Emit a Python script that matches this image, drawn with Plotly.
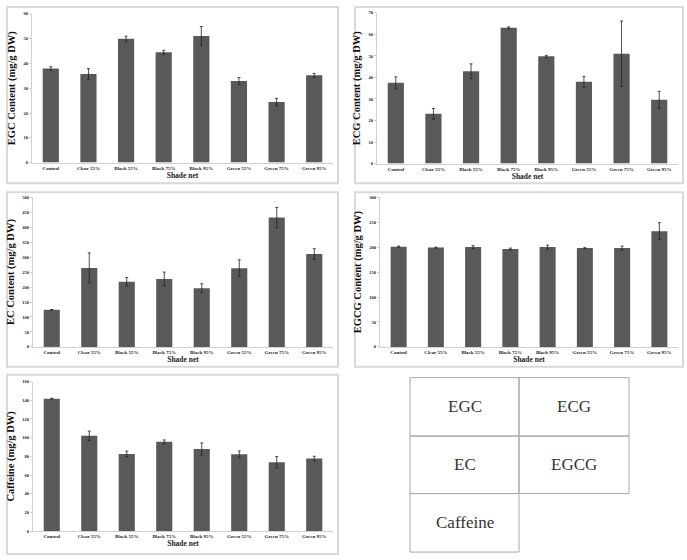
import plotly.graph_objects as go

W, H = 687, 560

categories = ["Control", "Clear 55%", "Black 55%", "Black 75%", "Black 95%",
              "Green 55%", "Green 75%", "Green 95%"]

egc = [38.0, 35.7, 50.0, 44.5, 51.1, 32.9, 24.4, 35.2]
egc_err = [0.7, 2.2, 1.0, 0.8, 3.8, 1.4, 1.5, 0.8]

ecg = [37.5, 23.1, 42.9, 63.1, 49.8, 38.0, 51.0, 29.6]
ecg_err = [2.8, 2.5, 3.4, 0.4, 0.5, 2.5, 15.2, 4.0]

ec = [124, 264, 218, 227, 196, 263, 432, 310]
ec_err = [1, 50, 14, 23, 15, 28, 34, 18]

egcg = [201, 199, 200, 196, 200, 198, 198, 232]
egcg_err = [1, 1, 3, 2, 4, 1, 4, 17]

caffeine = [141.7, 102, 82.6, 95.6, 87.9, 82.3, 73.8, 77.7]
caffeine_err = [0.5, 5, 3, 2, 6.5, 3.5, 6, 2.5]

y_titles = ["EGC Content (mg/g DW)", "ECG Content (mg/g DW)", "EC Content (mg/g DW)",
            "EGCG Content (mg/g DW)", "Caffeine (mg/g DW)"]
y_max = [60, 70, 500, 300, 160]
y_step = [10, 10, 50, 50, 20]
x_title = "Shade net"
table_labels = ["EGC", "ECG", "EC", "EGCG", "Caffeine"]

series = [(egc, egc_err), (ecg, ecg_err), (ec, ec_err), (egcg, egcg_err), (caffeine, caffeine_err)]

# pixel geometry: (plot left, plot right, plot top, plot bottom), panel border box
plots = [(32, 333, 12, 162), (377, 678, 11, 163), (33, 333, 197, 348),
         (380, 678, 197, 348), (33, 333, 383, 534)]
borders = [(7, 5, 338, 183), (355, 5, 683, 183), (7, 192, 338, 368),
           (355, 192, 683, 368), (7, 376, 338, 557)]

def px(x):
    return x / W

def py(y):
    return 1 - y / H

fig = go.Figure()
serif = "Liberation Serif"
layout = {}
shapes = []
annotations = []

for i, ((vals, errs), (l, r, t, b)) in enumerate(zip(series, plots)):
    n = "" if i == 0 else str(i + 1)
    fig.add_trace(go.Bar(
        x=categories, y=vals,
        error_y=dict(type="data", array=errs, visible=True, color="#222222",
                     thickness=0.8, width=1.5),
        marker=dict(color="#595959", line=dict(width=0)),
        xaxis="x" + n, yaxis="y" + n, showlegend=False,
    ))
    layout["xaxis" + n] = dict(
        domain=[px(l), px(r)], anchor="y" + n,
        showline=True, linecolor="#d0d0d0", linewidth=1,
        ticks="", ticklen=0,
        tickfont=dict(family=serif, size=5, color="#222", weight="bold"),
        title=dict(text="<b>" + x_title + "</b>", font=dict(family=serif, size=7.5, color="#222"),
                   standoff=0),
        showgrid=False, fixedrange=True,
    )
    layout["yaxis" + n] = dict(
        domain=[py(b), py(t)], anchor="x" + n,
        range=[0, y_max[i]], dtick=y_step[i], tick0=0,
        showline=True, linecolor="#d0d0d0", linewidth=1,
        ticks="outside", ticklen=2, tickcolor="#d0d0d0",
        tickfont=dict(family=serif, size=4.5, color="#222", weight="bold"),
        title=dict(text="<b>" + y_titles[i] + "</b>",
                   font=dict(family=serif, size=10.5, color="#111"), standoff=5),
        showgrid=False, zeroline=False, fixedrange=True,
    )

for (x0, y0, x1, y1) in borders:
    shapes.append(dict(type="rect", xref="paper", yref="paper",
                       x0=px(x0), x1=px(x1), y0=py(y1), y1=py(y0),
                       line=dict(color="#d9d9d9", width=2), fillcolor="rgba(0,0,0,0)"))

# table
tl, tm, tr = 410, 519, 629
rows = [379, 438, 496, 555]
tline = dict(color="#a8a8a8", width=1)
for j in range(3):
    shapes.append(dict(type="rect", xref="paper", yref="paper",
                       x0=px(tl), x1=px(tm), y0=py(rows[j + 1]), y1=py(rows[j]), line=tline))
for j in range(2):
    shapes.append(dict(type="rect", xref="paper", yref="paper",
                       x0=px(tm), x1=px(tr), y0=py(rows[j + 1]), y1=py(rows[j]), line=tline))
cells = [((tl + tm) / 2, (rows[0] + rows[1]) / 2), ((tm + tr) / 2, (rows[0] + rows[1]) / 2),
         ((tl + tm) / 2, (rows[1] + rows[2]) / 2), ((tm + tr) / 2, (rows[1] + rows[2]) / 2),
         ((tl + tm) / 2, (rows[2] + rows[3]) / 2)]
for lab, (cx, cy) in zip(table_labels, cells):
    annotations.append(dict(text=lab, x=px(cx), y=py(cy), xref="paper", yref="paper",
                            xanchor="center", yanchor="middle",
                            showarrow=False, font=dict(family=serif, size=17, color="#333")))

fig.update_layout(
    width=W, height=H, margin=dict(l=0, r=0, t=0, b=0),
    paper_bgcolor="white", plot_bgcolor="white",
    bargap=0.57, shapes=shapes, annotations=annotations, **layout,
)

fig.write_html("out.html", config={"displayModeBar": False, "staticPlot": True},
               post_script="document.body.style.margin='0';document.body.style.overflow='hidden';")
